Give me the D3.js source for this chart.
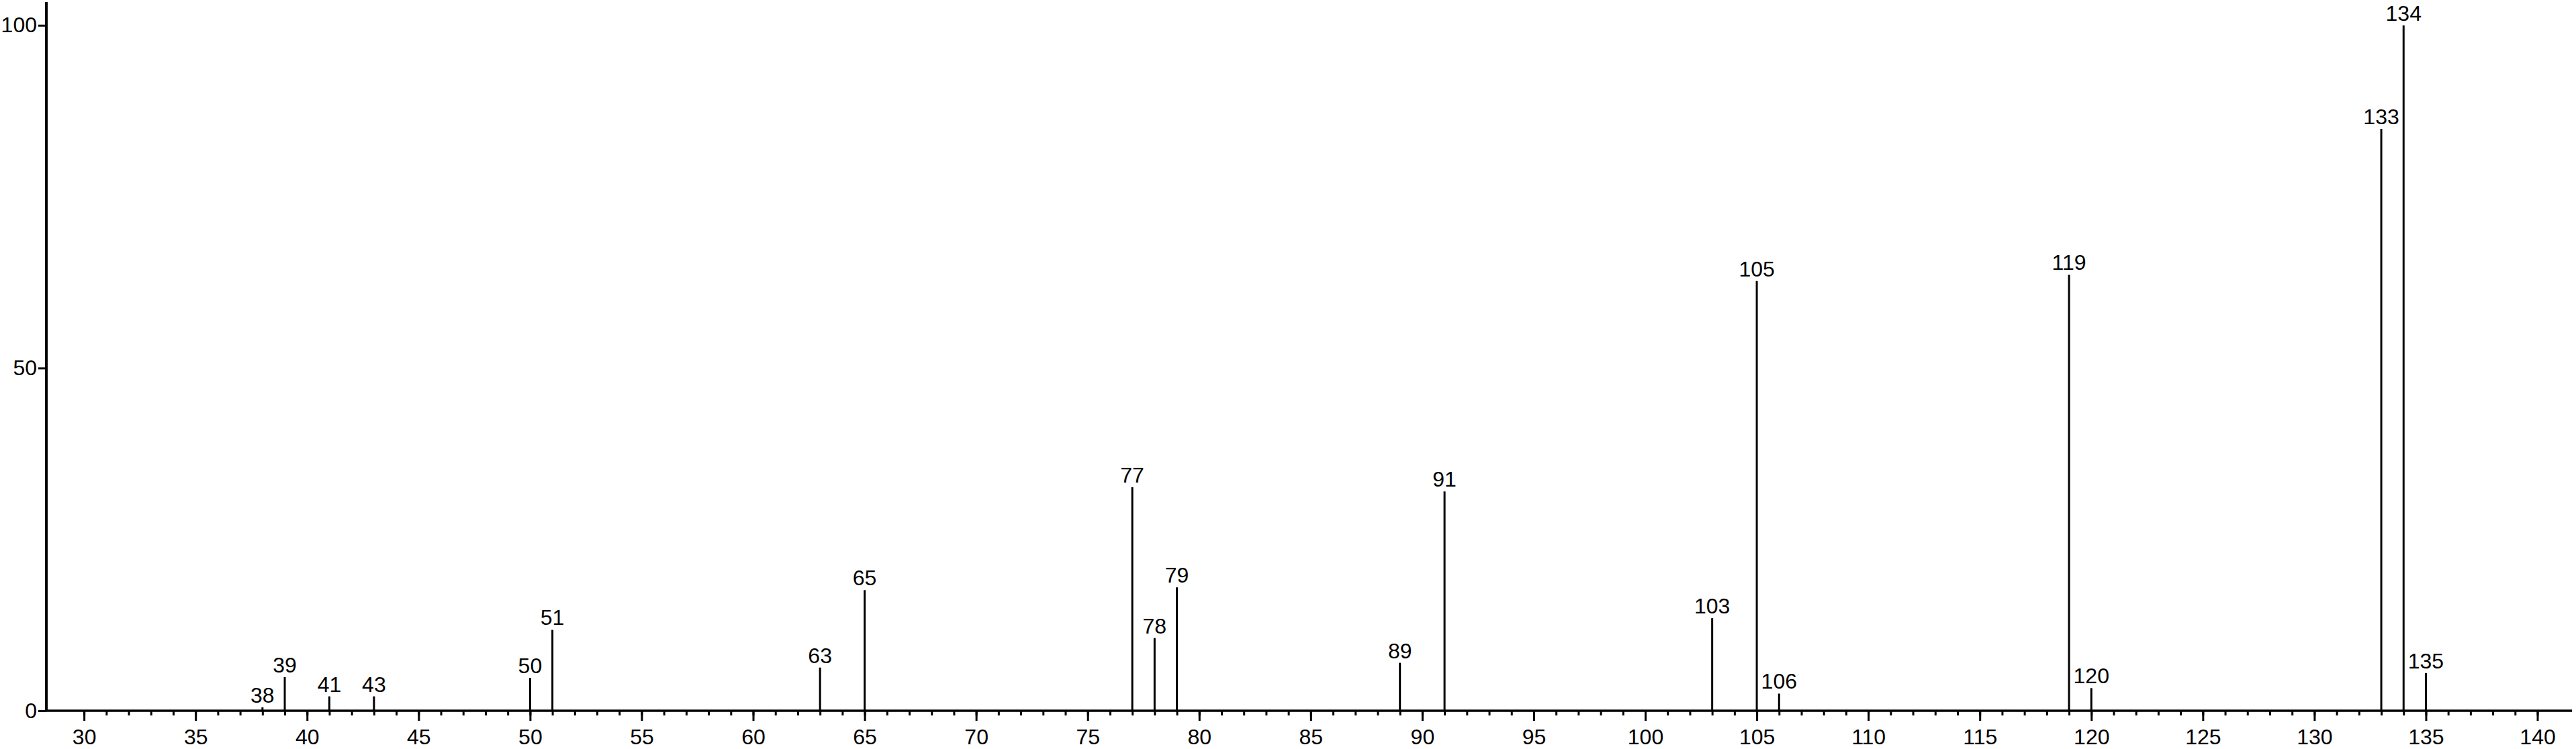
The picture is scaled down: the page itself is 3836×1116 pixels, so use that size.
<!DOCTYPE html>
<html>
<head>
<meta charset="utf-8">
<script src="https://cdn.jsdelivr.net/npm/d3@7"></script>
<style>
  html, body { margin: 0; padding: 0; background: #fff; }
  svg { display: block; }
  text { font-family: "Liberation Sans", Arial, Helvetica, sans-serif; fill: #000; }
</style>
</head>
<body>
<svg id="chart" width="3836" height="1116"></svg>
<script>
// m/z values (peak positions)
const mz = [38, 39, 41, 43, 50, 51, 63, 65, 77, 78, 79, 89, 91, 103, 105, 106, 119, 120, 133, 134, 135];
// relative intensities (%)
const intensity = [0.5, 4.9, 2.1, 2.1, 4.8, 11.8, 6.3, 17.6, 32.6, 10.6, 18.0, 7.0, 32.0, 13.5, 62.7, 2.5, 63.6, 3.3, 84.9, 100, 5.5];
// axis tick values
const xMajorTicks = [30, 35, 40, 45, 50, 55, 60, 65, 70, 75, 80, 85, 90, 95, 100, 105, 110, 115, 120, 125, 130, 135, 140];
const xMinorTicks = d3.range(30, 141, 1);
const yTicks = [0, 50, 100];

const svg = d3.select("#chart");

const x = d3.scaleLinear().domain([28.31, 141.55]).range([69, 3830]);
const y = d3.scaleLinear().domain([0, 103.4]).range([1059, 3]);
const y0 = y(0);

// minor x ticks
const xMinor = svg.append("g")
  .attr("transform", `translate(0,${y0})`)
  .call(d3.axisBottom(x).tickValues(xMinorTicks).tickSize(7).tickFormat(""));
xMinor.select(".domain").remove();
xMinor.selectAll(".tick line").attr("stroke", "#000").attr("stroke-width", 3);

// major x ticks with labels
const xMajor = svg.append("g")
  .attr("transform", `translate(0,${y0})`)
  .call(d3.axisBottom(x).tickValues(xMajorTicks).tickSize(15).tickPadding(12).tickFormat(d3.format("d")));
xMajor.select(".domain").attr("stroke", "#000").attr("stroke-width", 3.5).attr("d", `M${x.range()[0]},0H${x.range()[1]}`);
xMajor.selectAll(".tick line").attr("stroke", "#000").attr("stroke-width", 3);
xMajor.selectAll(".tick text").attr("font-size", 32).attr("font-family", "Liberation Sans, Arial, sans-serif");

// y axis
const yAx = svg.append("g")
  .attr("transform", `translate(${x.range()[0]},0)`)
  .call(d3.axisLeft(y).tickValues(yTicks).tickSize(12).tickPadding(2).tickFormat(d3.format("d")));
yAx.select(".domain").attr("stroke", "#000").attr("stroke-width", 4).attr("d", `M0,${y.range()[0]}V${y.range()[1]}`);
yAx.selectAll(".tick line").attr("stroke", "#000").attr("stroke-width", 3);
yAx.selectAll(".tick text").attr("font-size", 32).attr("font-family", "Liberation Sans, Arial, sans-serif");

const peaks = mz.map((m, i) => ({ m, v: intensity[i] }));

// peak sticks
svg.append("g").selectAll("line")
  .data(peaks).join("line")
  .attr("x1", d => x(d.m)).attr("x2", d => x(d.m))
  .attr("y1", y0).attr("y2", d => y(d.v))
  .attr("stroke", "#000").attr("stroke-width", 3);

// peak labels
svg.append("g").selectAll("text")
  .data(peaks).join("text")
  .attr("x", d => x(d.m))
  .attr("y", d => y(d.v) - 7)
  .attr("text-anchor", "middle")
  .attr("font-size", 32)
  .text(d => d.m);
</script>
</body>
</html>
